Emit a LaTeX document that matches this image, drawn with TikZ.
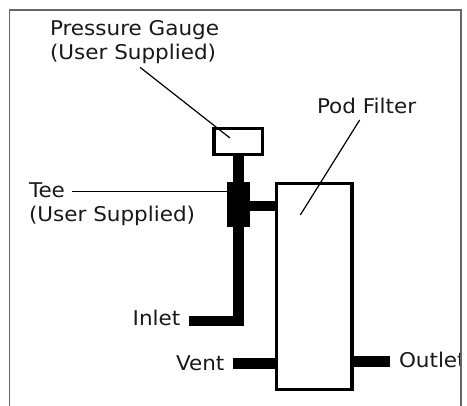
\documentclass[tikz,border=0pt]{standalone}
\usepackage{fontspec}
\setmainfont[FakeStretch=1.06]{DejaVu Sans}
\usetikzlibrary{calc}
\tikzset{
  x=1pt,y=-1pt,
  frameline/.style={draw=black!60,line width=1.4pt},
  partbox/.style={draw=black,line width=3.3pt,fill=white,minimum width=#1,inner sep=0pt,outer sep=0pt},
  pipe/.style={draw=black,line width=10.5pt},
  leader/.style={draw=black,line width=1.2pt},
  lbl/.style={inner sep=0pt,outer sep=0pt,anchor=base west,font=\fontsize{20.3}{20.3}\selectfont,text=black!90}
}
\begin{document}
\begin{tikzpicture}
\useasboundingbox (0,0) rectangle (467,406);
\fill[white] (0,0) rectangle (467,406);
% parts
\node[partbox=48.5pt,minimum height=26pt] (gauge) at (238.3,141.5) {};
\node[partbox=75.5pt,minimum height=206pt] (filter) at (314.3,286.5) {};
\node[fill=black,inner sep=0pt,outer sep=0pt,minimum width=22.5pt,minimum height=45pt] (tee) at (238.3,204.2) {};
% free ends
\coordinate (inletend) at (189,321);
\coordinate (ventend) at (232.7,363.5);
\coordinate (outletend) at (390,361.3);
\coordinate (gaugetip) at (230,138);
\coordinate (gaugefrom) at (140,67.3);
\coordinate (teefrom) at (71.7,191.3);
\coordinate (podfrom) at (359.7,120);
\coordinate (podtip) at (300.3,215);
% pipes
\draw[pipe] (tee.north) -- (gauge.south);
\draw[pipe] (inletend) -- (tee.south |- inletend) -- (tee.south);
\draw[pipe] (tee.east |- 0,206) -- (filter.west |- 0,206);
\draw[pipe] (ventend) -- (filter.west |- ventend);
\draw[pipe] (filter.east |- outletend) -- (outletend);
% labels
\begin{scope}
\clip (0,0) rectangle (461,406);
\node[lbl] (lpg) at (50,35.5) {Pressure Gauge};
\node[lbl] (lpu) at (50,59.5) {(User Supplied)};
\node[lbl] (ltee) at (29,197.5) {Tee};
\node[lbl] (ltu) at (29,221.5) {(User Supplied)};
\node[lbl] (lpod) at (317,113.5) {Pod Filter};
\node[lbl] (linlet) at (132.7,325.5) {Inlet};
\node[lbl] (lvent) at (176,371) {Vent};
\node[lbl] (loutlet) at (399,368) {Outlet};
\end{scope}
\draw[frameline] (9.7,406) -- (9.7,10) -- (461,10) -- (461,406);
% leaders
\draw[leader] (gaugefrom) -- (gaugetip);
\draw[leader] (teefrom) -- (tee.west |- teefrom);
\draw[leader] (podfrom) -- (podtip);
\end{tikzpicture}
\end{document}
